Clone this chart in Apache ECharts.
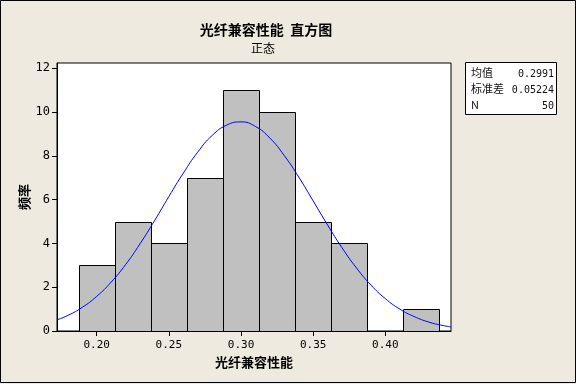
<!DOCTYPE html>
<html><head><meta charset="utf-8">
<script src="https://cdn.jsdelivr.net/npm/echarts@6/dist/echarts.min.js"></script>
<style>html,body{margin:0;padding:0;background:#EEEAE0}#c{width:576px;height:384px}</style>
</head><body><div id="c"></div>
<script>
// Histogram bins (lower edges), bin width and counts
const binStarts = [0.1875, 0.2125, 0.2375, 0.2625, 0.2875, 0.3125, 0.3375, 0.3625, 0.3875, 0.4125];
const binWidth = 0.025;
const counts = [3, 5, 4, 7, 11, 10, 5, 4, 0, 1];
// Fitted normal curve
const curveX = [0.1725, 0.18, 0.19, 0.20, 0.21, 0.22, 0.23, 0.24, 0.25, 0.26, 0.27, 0.28, 0.29, 0.30, 0.31, 0.32, 0.33, 0.34, 0.35, 0.36, 0.37, 0.38, 0.39, 0.40, 0.41, 0.42, 0.43, 0.44, 0.4455];
const curveY = [0.51, 0.71, 1.08, 1.58, 2.23, 3.03, 3.98, 5.03, 6.14, 7.21, 8.17, 8.93, 9.40, 9.55, 9.34, 8.81, 8.01, 7.03, 5.94, 4.84, 3.80, 2.88, 2.10, 1.48, 1.00, 0.66, 0.41, 0.25, 0.19];
const xTicks = [0.20, 0.25, 0.30, 0.35, 0.40];
const yTicks = [0, 2, 4, 6, 8, 10, 12];
const statLabels = ['均值', '标准差', 'N'];
const statValues = ['0.2991', '0.05224', '50'];

const chart = echarts.init(document.getElementById('c'));
const cjk = "'Noto Sans CJK SC', sans-serif";
const mono = "'DejaVu Sans Mono', monospace";

const barData = binStarts.map((s, i) => [s, s + binWidth, counts[i]]).filter(d => d[2] > 0);
const curveData = curveX.map((x, i) => [x, curveY[i]]);

const statGraphics = [];
statLabels.forEach((l, i) => {
  statGraphics.push({type: 'text', left: 471, top: 67 + i * 16, style: {text: l, font: "11px " + cjk, fill: '#111'}});
  statGraphics.push({type: 'text', right: 576 - 554, top: 69 + i * 16, style: {text: statValues[i], font: "10px " + mono, fill: '#111', textAlign: 'right'}});
});

chart.setOption({
  backgroundColor: '#EEEAE0',
  animation: false,
  title: [
    {text: '光纤兼容性能  直方图', left: 261, top: 18, textAlign: 'center',
     textStyle: {fontFamily: cjk, fontSize: 14, fontWeight: 'bold', color: '#000'}},
    {text: '正态', left: 258, top: 37, textAlign: 'center',
     textStyle: {fontFamily: cjk, fontSize: 12, fontWeight: 'normal', color: '#000'}}
  ],
  grid: {left: 57, top: 63, width: 394, height: 268, show: true, backgroundColor: '#fff', borderColor: '#000', borderWidth: 1},
  xAxis: {
    type: 'value', min: 0.1725, max: 0.4455,
    name: '光纤兼容性能', nameLocation: 'middle', nameGap: 23,
    nameTextStyle: {fontFamily: cjk, fontSize: 13, fontWeight: 'bold', color: '#000'},
    axisLine: {show: true, onZero: false, lineStyle: {color: '#000'}},
    axisTick: {show: true, length: 5, customValues: xTicks, lineStyle: {color: '#000'}},
    axisLabel: {customValues: xTicks, margin: 9, fontFamily: mono, fontSize: 11, color: '#000', formatter: v => v.toFixed(2)},
    splitLine: {show: false}
  },
  yAxis: {
    type: 'value', min: 0, max: 12.24,
    name: '频率', nameLocation: 'middle', nameGap: 26, nameRotate: 90, nameMoveOverlap: false,
    nameTextStyle: {fontFamily: cjk, fontSize: 13, fontWeight: 'bold', color: '#000'},
    axisLine: {show: true, lineStyle: {color: '#000'}},
    axisTick: {show: true, length: 5, customValues: yTicks, lineStyle: {color: '#000'}},
    axisLabel: {customValues: yTicks, margin: 7, fontFamily: mono, fontSize: 12, color: '#000'},
    splitLine: {show: false}
  },
  series: [
    {
      type: 'custom', data: barData, clip: true,
      renderItem: (params, api) => {
        const p0 = api.coord([api.value(0), api.value(2)]);
        const p1 = api.coord([api.value(1), 0]);
        return {type: 'rect', shape: {x: Math.round(p0[0]) + 0.5, y: Math.round(p0[1]) + 0.5, width: Math.round(p1[0]) - Math.round(p0[0]), height: Math.round(p1[1]) - Math.round(p0[1])},
          style: {fill: '#C0C0C0', stroke: '#000', lineWidth: 1}};
      }
    },
    {type: 'line', data: curveData, smooth: true, showSymbol: false, symbol: 'none', clip: true,
     lineStyle: {color: '#0000FF', width: 1}}
  ],
  graphic: [
    {type: 'rect', shape: {x: 0.5, y: 0.5, width: 575, height: 382}, style: {fill: 'none', stroke: '#000', lineWidth: 1}, silent: true},
    {type: 'rect', shape: {x: 465.5, y: 62.5, width: 91, height: 52}, style: {fill: '#fff', stroke: '#000', lineWidth: 1}},
    ...statGraphics
  ]
});
</script></body></html>
